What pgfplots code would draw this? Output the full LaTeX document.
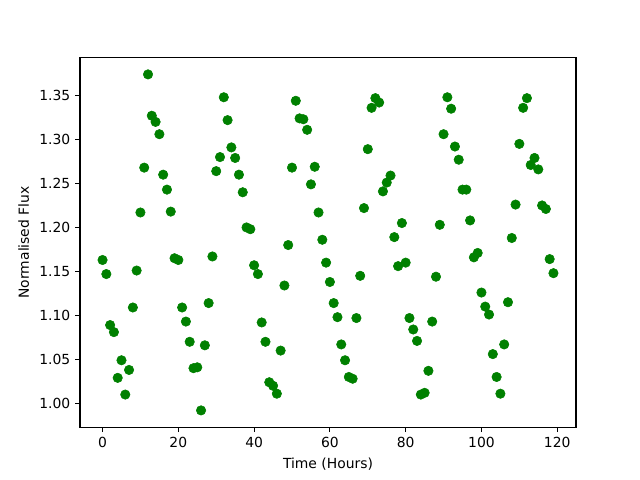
\documentclass[border=0pt]{standalone}
\usepackage{fontspec}
\setmainfont{DejaVu Sans}
\usepackage{pgfplots}
\pgfplotsset{compat=1.18}
\definecolor{mplgreen}{HTML}{008000}
\begin{document}
\fontsize{10}{12}\selectfont
\begin{tikzpicture}
\path[use as bounding box] (-57.6pt,-38.016pt) rectangle (403.2pt,307.584pt);
\begin{axis}[
  at={(0,0)}, anchor=south west,
  scale only axis,
  width=357.12pt, height=266.112pt,
  xmin=-5.95, xmax=124.95,
  ymin=0.9729, ymax=1.3931,
  xtick={0,20,...,120},
  ytick={1.00,1.05,1.10,1.15,1.20,1.25,1.30,1.35},
  yticklabel style={/pgf/number format/.cd, fixed, fixed zerofill, precision=2},
  /pgf/number format/assume math mode=true,
  tick align=outside,
  xtick pos=lower, ytick pos=left,
  major tick length=3.5pt,
  every tick/.style={black, line width=0.8pt},
  axis line style={line width=0.8pt},
  tick label style={font=\fontsize{10}{12}\selectfont},
  label style={font=\fontsize{10}{12}\selectfont},
  xlabel={Time (Hours)},
  ylabel={Normalised Flux},
  xlabel style={yshift=-1pt},
  ylabel style={yshift=0.5pt},
]
\addplot[only marks, mark=*, mark size=3.4pt, color=mplgreen, mark options={fill=mplgreen, draw=mplgreen}] coordinates {
(0,1.163)(1,1.147)(2,1.089)(3,1.081)(4,1.029)(5,1.049)(6,1.010)(7,1.038)(8,1.109)(9,1.151)
(10,1.217)(11,1.268)(12,1.374)(13,1.327)(14,1.320)(15,1.306)(16,1.260)(17,1.243)(18,1.218)(19,1.165)
(20,1.163)(21,1.109)(22,1.093)(23,1.070)(24,1.040)(25,1.041)(26,0.992)(27,1.066)(28,1.114)(29,1.167)
(30,1.264)(31,1.280)(32,1.348)(33,1.322)(34,1.291)(35,1.279)(36,1.260)(37,1.240)(38,1.200)(39,1.198)
(40,1.157)(41,1.147)(42,1.092)(43,1.070)(44,1.024)(45,1.020)(46,1.011)(47,1.060)(48,1.134)(49,1.180)
(50,1.268)(51,1.344)(52,1.324)(53,1.323)(54,1.311)(55,1.249)(56,1.269)(57,1.217)(58,1.186)(59,1.160)
(60,1.138)(61,1.114)(62,1.098)(63,1.067)(64,1.049)(65,1.030)(66,1.028)(67,1.097)(68,1.145)(69,1.222)
(70,1.289)(71,1.336)(72,1.347)(73,1.342)(74,1.241)(75,1.251)(76,1.259)(77,1.189)(78,1.156)(79,1.205)
(80,1.160)(81,1.097)(82,1.084)(83,1.071)(84,1.010)(85,1.012)(86,1.037)(87,1.093)(88,1.144)(89,1.203)
(90,1.306)(91,1.348)(92,1.335)(93,1.292)(94,1.277)(95,1.243)(96,1.243)(97,1.208)(98,1.166)(99,1.171)
(100,1.126)(101,1.110)(102,1.101)(103,1.056)(104,1.030)(105,1.011)(106,1.067)(107,1.115)(108,1.188)(109,1.226)
(110,1.295)(111,1.336)(112,1.347)(113,1.271)(114,1.279)(115,1.266)(116,1.225)(117,1.221)(118,1.164)(119,1.148)
};
\end{axis}
\end{tikzpicture}
\end{document}
